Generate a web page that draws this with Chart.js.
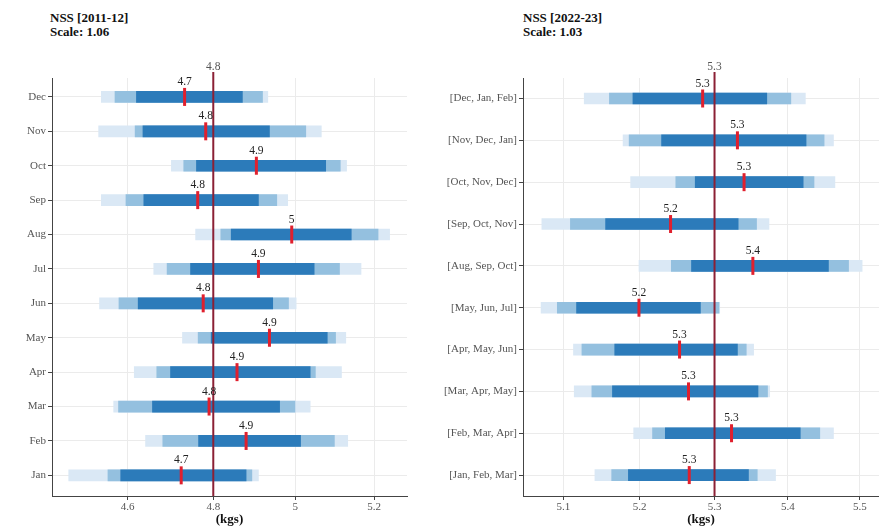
<!DOCTYPE html>
<html>
<head>
<meta charset="utf-8">
<script src="https://cdn.jsdelivr.net/npm/chart.js@4.4.1/dist/chart.umd.min.js"></script>
<style>
  html, body { margin: 0; padding: 0; background: #fff; }
  body { width: 879px; height: 528px; position: relative; overflow: hidden; font-family: "Liberation Serif", serif; }
  .panel { position: absolute; top: 0; height: 528px; }
  .head { position: absolute; font-weight: bold; font-size: 13px; line-height: 14px; color: #111; }
</style>
</head>
<body>
<div class="head" style="left:50px; top:11px">NSS [2011-12]<br>Scale: 1.06</div>
<div class="head" style="left:523px; top:11px">NSS [2022-23]<br>Scale: 1.03</div>
<div class="panel" style="left:0; width:440px"><canvas id="c2011" width="440" height="528"></canvas></div>
<div class="panel" style="left:440px; width:439px"><canvas id="c2022" width="439" height="528"></canvas></div>

<script>
// ---- NSS 2011-12: monthly estimates (kgs), top row first ----
const months2011 = ['Dec', 'Nov', 'Oct', 'Sep', 'Aug', 'Jul', 'Jun', 'May', 'Apr', 'Mar', 'Feb', 'Jan'];
const est2011     = [4.732, 4.782, 4.904, 4.763, 4.991, 4.909, 4.776, 4.936, 4.857, 4.790, 4.879, 4.724];
const outerLo2011 = [4.540, 4.534, 4.701, 4.540, 4.758, 4.660, 4.536, 4.727, 4.615, 4.568, 4.641, 4.467];
const outerHi2011 = [4.932, 5.065, 5.129, 4.981, 5.240, 5.166, 5.002, 5.127, 5.116, 5.037, 5.132, 4.909];
const midLo2011   = [4.571, 4.617, 4.730, 4.596, 4.818, 4.691, 4.580, 4.764, 4.667, 4.579, 4.681, 4.555];
const midHi2011   = [4.919, 5.026, 5.113, 4.954, 5.210, 5.111, 4.983, 5.101, 5.050, 4.999, 5.098, 4.893];
const innerLo2011 = [4.620, 4.635, 4.760, 4.637, 4.843, 4.746, 4.624, 4.795, 4.699, 4.657, 4.765, 4.584];
const innerHi2011 = [4.870, 4.936, 5.076, 4.909, 5.141, 5.047, 4.944, 5.080, 5.037, 4.961, 5.013, 4.879];
const ref2011 = 4.8;
const xTicks2011 = [4.6, 4.8, 5, 5.2];

// ---- NSS 2022-23: three-month windows (kgs), top row first ----
const windows2022 = ['[Dec, Jan, Feb]', '[Nov, Dec, Jan]', '[Oct, Nov, Dec]', '[Sep, Oct, Nov]', '[Aug, Sep, Oct]',
                     '[May, Jun, Jul]', '[Apr, May, Jun]', '[Mar, Apr, May]', '[Feb, Mar, Apr]', '[Jan, Feb, Mar]'];
const est2022     = [5.284, 5.331, 5.340, 5.241, 5.352, 5.199, 5.253, 5.265, 5.323, 5.266];
const outerLo2022 = [5.127, 5.178, 5.188, 5.072, 5.199, 5.071, 5.113, 5.114, 5.192, 5.141];
const outerHi2022 = [5.424, 5.463, 5.465, 5.374, 5.503, 5.307, 5.353, 5.375, 5.463, 5.383];
const midLo2022   = [5.160, 5.186, 5.248, 5.109, 5.242, 5.092, 5.124, 5.137, 5.217, 5.163];
const midHi2022   = [5.404, 5.450, 5.436, 5.357, 5.484, 5.306, 5.343, 5.372, 5.444, 5.358];
const innerLo2022 = [5.191, 5.229, 5.274, 5.155, 5.269, 5.117, 5.167, 5.164, 5.234, 5.185];
const innerHi2022 = [5.371, 5.425, 5.421, 5.332, 5.456, 5.281, 5.331, 5.359, 5.417, 5.346];
const ref2022 = 5.3;
const xTicks2022 = [5.1, 5.2, 5.3, 5.4, 5.5];

const FONT = '"Liberation Serif", serif';
const fmt = v => String(Number(Number(v).toFixed(1)));

// reference line (after the interval bars) and the rounded estimate labels
const markPlugin = {
  id: 'marks',
  afterDatasetDraw(chart, args, opts) {
    if (args.index !== 1) return; // draw the line right after the darkest band
    const { ctx, chartArea, scales: { x } } = chart;
    const rx = x.getPixelForValue(opts.ref);
    ctx.save();
    ctx.strokeStyle = '#8b2035';
    ctx.lineWidth = 2;
    ctx.beginPath();
    ctx.moveTo(rx, chartArea.top - 6);
    ctx.lineTo(rx, chartArea.bottom);
    ctx.stroke();
    ctx.restore();
  },
  afterDatasetsDraw(chart, args, opts) {
    const { ctx, chartArea, scales: { x, y } } = chart;
    ctx.save();
    ctx.font = '11.5px ' + FONT;
    ctx.textAlign = 'center';
    ctx.textBaseline = 'middle';
    ctx.fillStyle = '#555';
    ctx.fillText(fmt(opts.ref), x.getPixelForValue(opts.ref), chartArea.top - 11);
    ctx.fillStyle = '#222';
    opts.est.forEach((v, i) => {
      ctx.fillText(fmt(v), x.getPixelForValue(v), y.getPixelForValue(i) - 15);
    });
    ctx.restore();
  }
};

function band(lo, hi, color, order) {
  return {
    type: 'bar',
    data: lo.map((l, i) => ({ x: [l, hi[i]], y: i })),
    backgroundColor: color,
    borderWidth: 0,
    barThickness: 11,
    grouped: false,
    order: order
  };
}

function makeChart(id, cfg) {
  const tickFont = { family: FONT, size: 11 };
  return new Chart(document.getElementById(id), {
    type: 'bar',
    data: {
      datasets: [
        {
          type: 'scatter',
          data: cfg.est.map((v, i) => ({ x: v, y: i })),
          pointStyle: 'line',
          rotation: 90,
          pointRadius: 9,
          pointBorderWidth: 3,
          borderColor: '#e0202e',
          backgroundColor: '#e0202e',
          order: 0
        },
        band(cfg.innerLo, cfg.innerHi, '#2c7bba', 1),
        band(cfg.midLo, cfg.midHi, '#94c0df', 2),
        band(cfg.outerLo, cfg.outerHi, '#dae8f5', 3)
      ]
    },
    options: {
      indexAxis: 'y',
      responsive: false,
      animation: false,
      layout: { padding: cfg.padding, autoPadding: false },
      plugins: {
        legend: { display: false },
        tooltip: { enabled: false },
        marks: { ref: cfg.ref, est: cfg.est }
      },
      scales: {
        x: {
          type: 'logarithmic',
          position: 'bottom',
          min: cfg.xMin,
          max: cfg.xMax,
          afterBuildTicks: s => { s.ticks = cfg.xTicks.map(v => ({ value: v })); },
          ticks: { callback: v => fmt(v), font: tickFont, color: '#555', padding: 1, autoSkip: false, maxRotation: 0 },
          grid: { color: '#ebebeb', lineWidth: 1, tickLength: 4, tickColor: '#444' },
          border: { color: '#444', width: 1 },
          title: { display: true, text: '(kgs)', font: { family: FONT, size: 13, weight: 'bold' }, color: '#111', padding: { top: 0, bottom: 1 } },
          afterFit: s => { s.height = 32; s.paddingLeft = 0; s.paddingRight = 0; }
        },
        y: {
          type: 'linear',
          reverse: true,
          offset: false,
          min: cfg.yMin,
          max: cfg.yMax,
          afterBuildTicks: s => { s.ticks = cfg.cats.map((c, i) => ({ value: i })); },
          ticks: { callback: v => cfg.cats[v], font: tickFont, color: '#555', padding: 2, autoSkip: false },
          grid: { offset: false, color: '#ebebeb', lineWidth: 1, tickLength: 4, tickColor: '#444' },
          border: { color: '#444', width: 1 },
          afterFit: s => { s.width = cfg.yWidth; s.paddingTop = 0; s.paddingBottom = 0; }
        }
      }
    },
    plugins: [markPlugin]
  });
}

makeChart('c2011', {
  cats: months2011, est: est2011,
  outerLo: outerLo2011, outerHi: outerHi2011,
  midLo: midLo2011, midHi: midHi2011,
  innerLo: innerLo2011, innerHi: innerHi2011,
  ref: ref2011, xTicks: xTicks2011,
  xMin: 4.435, xMax: 5.2855, yMin: -0.55, yMax: 11.6,
  yWidth: 52, padding: { left: 0, right: 33, top: 78, bottom: 0 }
});

makeChart('c2022', {
  cats: windows2022, est: est2022,
  outerLo: outerLo2022, outerHi: outerHi2022,
  midLo: midLo2022, midHi: midHi2022,
  innerLo: innerLo2022, innerHi: innerHi2022,
  ref: ref2022, xTicks: xTicks2022,
  xMin: 5.0477, xMax: 5.5267, yMin: -0.49, yMax: 9.5,
  yWidth: 83, padding: { left: 0, right: 0, top: 78, bottom: 0 }
});
</script>
</body>
</html>
